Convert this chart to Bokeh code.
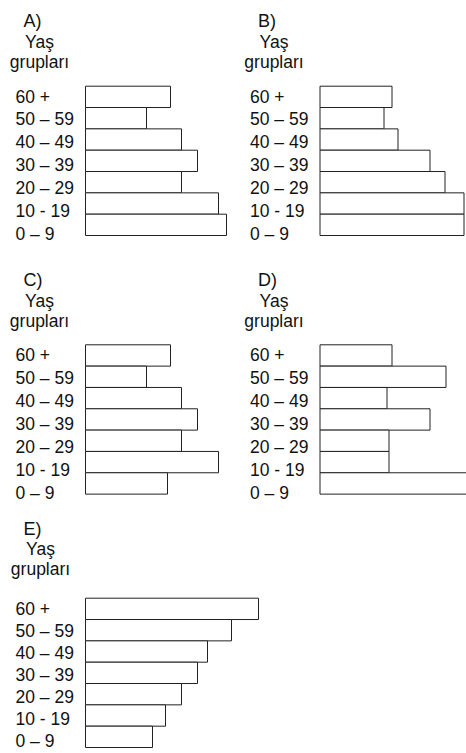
from bokeh.plotting import figure
from bokeh.layouts import column, row
from bokeh.models import Range1d, ColumnDataSource
from bokeh.core.properties import value
from bokeh.embed import file_html
from bokeh.resources import INLINE

# ---------------- data ----------------
age_groups = ["60 +", "50 – 59", "40 – 49", "30 – 39", "20 – 29", "10 - 19", "0 – 9"]
panel_names = ["A)", "B)", "C)", "D)", "E)"]
header_lines = ["Yaş", "grupları"]

values_A = [85, 61, 96, 112, 96, 133, 141]
values_B = [72, 64, 78, 110, 125, 144, 144]
values_C = [85, 61, 96, 112, 96, 133, 82]
values_D = [72, 126, 67, 110, 69, 69, 160]
values_E = [173, 146, 122, 112, 96, 80, 67]

# ---------------- style ----------------
FONT = "Liberation Sans"
PITCH = 21.33          # px per age-group row
LINE = "#222222"
TXT = "#111111"


def make_panel(name, vals, fig_left, fig_top, fig_w, fig_h,
               bar_left, row0_top, label_x, label_base0, label_step,
               name_x, name_base, head_cx, head_base1, head_base2):
    def py(pix):  # page pixel (vertical) -> data y
        return (pix - row0_top) / PITCH - 0.5

    def px(pix):  # page pixel (horizontal) -> data x
        return pix - bar_left

    p = figure(width=fig_w, height=fig_h, output_backend="svg",
               toolbar_location=None, x_axis_location=None, y_axis_location=None,
               x_range=Range1d(px(fig_left), px(fig_left + fig_w)),
               y_range=Range1d(py(fig_top + fig_h), py(fig_top)),
               min_border=0, outline_line_color=None,
               background_fill_color="white", border_fill_color="white")
    p.grid.visible = False

    idx = list(range(len(age_groups)))
    src = ColumnDataSource(dict(y=idx, right=vals, left=[0] * len(vals)))
    p.hbar(y="y", left="left", right="right", height=1, source=src,
           fill_color="white", line_color=LINE, line_width=1)

    lab_y = [py(label_base0 + label_step * i) for i in idx]
    p.text(x=[px(label_x)] * len(idx), y=lab_y, text=age_groups,
           text_font=value(FONT), text_font_size="17.5px", text_color=TXT,
           text_align="left", text_baseline="alphabetic")

    p.text(x=[px(name_x)], y=[py(name_base)], text=[name],
           text_font=value(FONT), text_font_size="18px", text_color=TXT,
           text_align="left", text_baseline="alphabetic")
    p.text(x=[px(head_cx)] * 2, y=[py(head_base1), py(head_base2)],
           text=header_lines,
           text_font=value(FONT), text_font_size="17.5px", text_color=TXT,
           text_align="center", text_baseline="alphabetic")
    return p


DX = 234.5   # horizontal shift of right-hand panels
DY = 258.6   # vertical shift of second row

pA = make_panel(panel_names[0], values_A, 0, 0, 235, 262,
                85, 85.7, 15.0, 96, 22.94,
                23, 20.7, 39.0, 41.7, 61.7)
pB = make_panel(panel_names[1], values_B, 235, 0, 231, 262,
                85 + DX, 85.7, 15.0 + DX, 96, 22.94,
                23 + DX, 20.7, 39.0 + DX, 41.7, 61.7)
pC = make_panel(panel_names[2], values_C, 0, 262, 235, 243,
                85, 85.7 + DY, 15.0, 96 + DY, 22.94,
                23, 20.7 + DY, 39.0, 41.7 + DY, 61.7 + DY)
pD = make_panel(panel_names[3], values_D, 235, 262, 231, 243,
                85 + DX, 85.7 + DY, 15.0 + DX, 96 + DY, 22.94,
                23 + DX, 20.7 + DY, 39.0 + DX, 41.7 + DY, 61.7 + DY)
pE = make_panel(panel_names[4], values_E, 0, 505, 300, 248,
                85, 597.7, 15.0, 608.3, 22.07,
                23, 528, 40, 548.3, 568)

layout = column(row(pA, pB), row(pC, pD), pE)

open("out.html", "w").write(file_html(layout, INLINE))
